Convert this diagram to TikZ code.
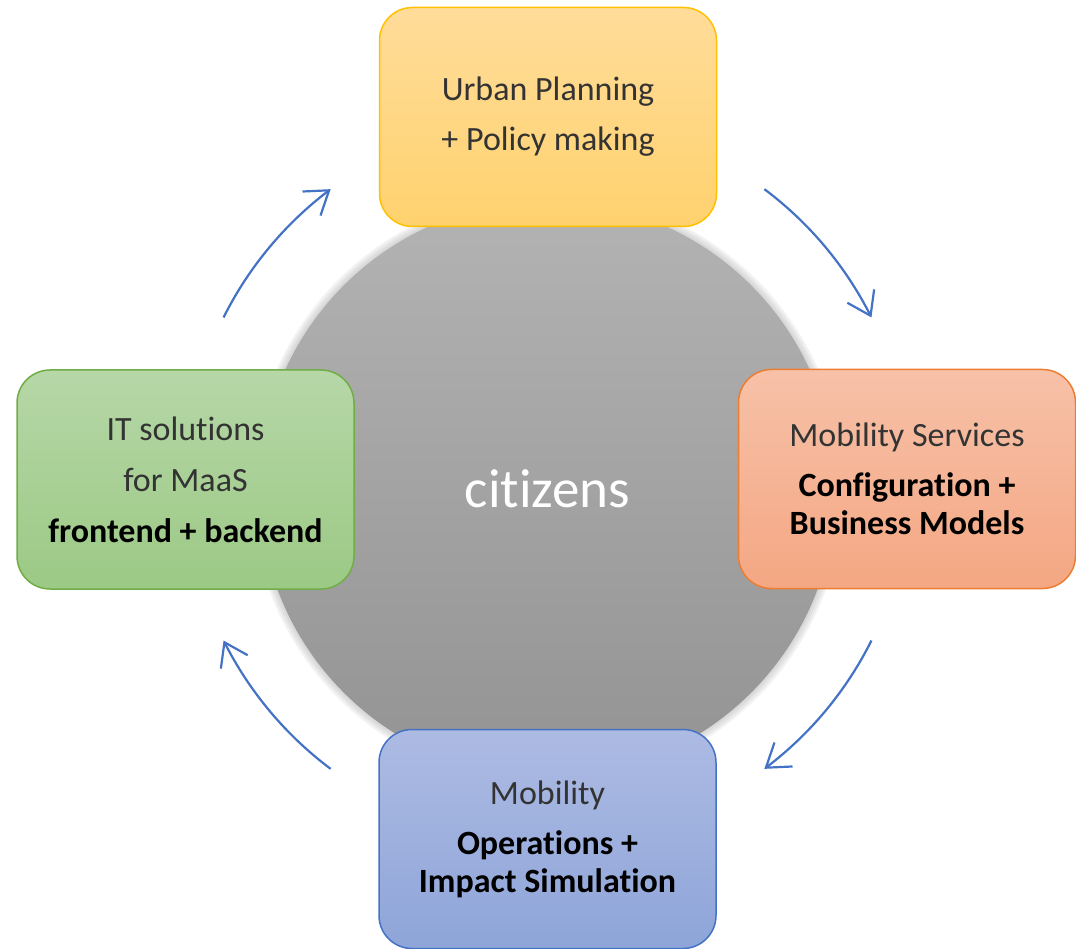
\documentclass[tikz,border=0pt]{standalone}
\usepackage{fontspec}
\setmainfont{Carlito}[Ligatures=NoCommon]
\usetikzlibrary{arrows.meta,bending}
\definecolor{circtop}{HTML}{B3B3B3}
\definecolor{circbot}{HTML}{939393}
\definecolor{circhalo}{HTML}{A3A3A3}
\definecolor{goldtop}{HTML}{FFDC9A}
\definecolor{goldbot}{HTML}{FFD26E}
\definecolor{goldline}{HTML}{FFC000}
\definecolor{orangetop}{HTML}{F7C1A8}
\definecolor{orangebot}{HTML}{F4A783}
\definecolor{orangeline}{HTML}{ED7D31}
\definecolor{greentop}{HTML}{B6D7A7}
\definecolor{greenbot}{HTML}{9CC985}
\definecolor{greenline}{HTML}{70AD47}
\definecolor{bluetop}{HTML}{ADBBE3}
\definecolor{bluebot}{HTML}{8EA5D9}
\definecolor{blueline}{HTML}{4472C4}
\definecolor{arrowblue}{HTML}{4472C4}
\definecolor{txtgray}{HTML}{333333}
\newcommand\blk[1]{\textcolor{black}{\bfseries #1}}
\begin{document}
\begin{tikzpicture}[x=1pt,y=-1pt,
  box/.style={rounded corners=33pt, minimum width=337pt, minimum height=219pt,
    line width=1.5pt, align=center, font=\fontsize{34}{38}\selectfont,
    text=txtgray, inner sep=0pt},
  flow/.style={draw=arrowblue, line width=2.2pt,
    -{Straight Barb[length=22pt,width=30pt,flex]}}]
\useasboundingbox (0,0) rectangle (1076,949);
% soft edge of the central circle
\foreach \k in {0,...,5}
  \fill[circhalo, opacity=0.13] (547.5,489) circle ({286+2*\k});
\node[circle, minimum size=576pt, inner sep=0pt, top color=circtop,
  bottom color=circbot, text=white, font=\fontsize{55}{60}\selectfont]
  (cit) at (547.5,489) {citizens};
% boxes
\node[box, draw=goldline, top color=goldtop, bottom color=goldbot]
  (plan) at (548,117) {Urban Planning\\[12pt]+ Policy making};
\node[box, draw=orangeline, top color=orangetop, bottom color=orangebot]
  (serv) at (907,479) {Mobility Services\\[12pt]\blk{Configuration +}\\\blk{Business Models}};
\node[box, draw=greenline, top color=greentop, bottom color=greenbot]
  (it) at (185.5,479.5) {IT solutions\\[13pt]for MaaS\\[13pt]\blk{frontend + backend}};
\node[box, draw=blueline, top color=bluetop, bottom color=bluebot]
  (ops) at (547.5,839) {Mobility\\[12pt]\blk{Operations +}\\\blk{Impact Simulation}};
% cycle arrows
\coordinate (o) at (547.5,479);
\path (o) ++(206.5:362) coordinate (a1);
\path (o) ++(306.8:362) coordinate (a2);
\path (o) ++(26.5:362) coordinate (a3);
\path (o) ++(126.8:362) coordinate (a4);
\draw[flow] (a1) arc[start angle=206.5, end angle=233.2, radius=362];
\draw[flow] (a2) arc[start angle=306.8, end angle=333.5, radius=362];
\draw[flow] (a3) arc[start angle=26.5, end angle=53.2, radius=362];
\draw[flow] (a4) arc[start angle=126.8, end angle=153.5, radius=362];
\end{tikzpicture}
\end{document}
